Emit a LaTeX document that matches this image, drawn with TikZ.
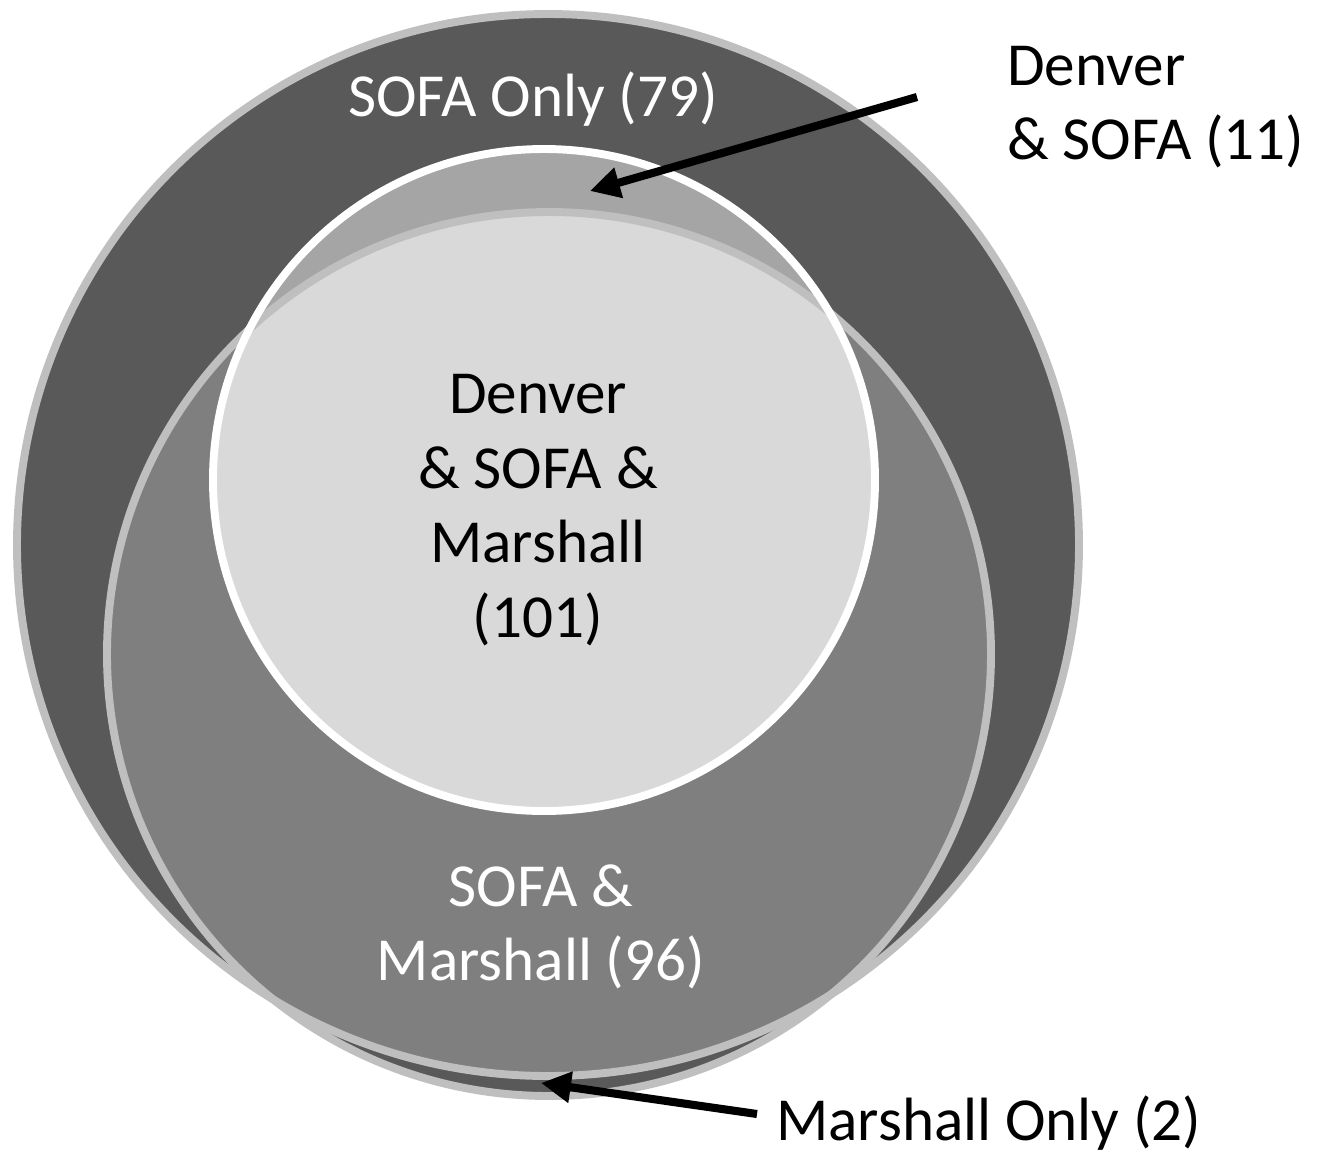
\documentclass[tikz,border=0pt]{standalone}
\usepackage{fontspec}
\setmainfont{Carlito}
\usetikzlibrary{arrows.meta}
\definecolor{sofafill}{HTML}{595959}
\definecolor{marfill}{HTML}{7F7F7F}
\definecolor{capfill}{HTML}{A5A5A5}
\definecolor{corefill}{HTML}{D9D9D9}
\definecolor{rimcol}{HTML}{BFBFBF}
\begin{document}
\begin{tikzpicture}[x=0.02cm,y=-0.02cm,
  rim/.style={draw=rimcol,line width=4.5pt},
  lbl/.style={font=\fontsize{34.8}{42.5}\selectfont, inner sep=0pt},
  wlbl/.style={lbl,text=white},
  pointer/.style={line width=4.6pt,-{Triangle[length=17pt,width=17pt]}}]
\useasboundingbox[fill=white] (0,0) rectangle (1323,1154);
% SOFA and Marshall
\fill[sofafill] (549,654) circle[radius=442];
\fill[sofafill] (548,545) circle[radius=531];
\begin{scope}
  \clip (548,545) circle[radius=531];
  \fill[marfill] (549,654) circle[radius=442];
\end{scope}
\draw[rim] (548,545) circle[radius=531];
\draw[rim] (549,654) circle[radius=442];
% Denver
\fill[capfill] (544,480) circle[radius=331];
\begin{scope}
  \clip (544,480) circle[radius=331];
  \fill[corefill] (549,654) circle[radius=442];
  \draw[rim] (549,654) circle[radius=442];
\end{scope}
\draw[white,line width=4.5pt] (544,480) circle[radius=331];
% labels
\node[wlbl,anchor=base] (sofaonly) at (533,116) {SOFA Only (79)};
\node[lbl,align=left,anchor=west] (densofa) at (1007,107) {Denver\\\& SOFA (11)};
\node[lbl,align=center] (core) at (538,510) {Denver\\\& SOFA \&\\Marshall\\(101)};
\node[wlbl,align=center] (sofamar) at (541,927) {SOFA \&\\Marshall (96)};
\node[lbl,anchor=base west] (maronly) at (776,1140) {Marshall Only (2)};
% pointers
\coordinate (p1s) at (917,97);
\coordinate (p1e) at (590,191);
\draw[pointer] (p1s) -- (p1e);
\coordinate (p2s) at (757,1114);
\coordinate (p2e) at (541,1083);
\draw[pointer] (p2s) -- (p2e);
\end{tikzpicture}
\end{document}
